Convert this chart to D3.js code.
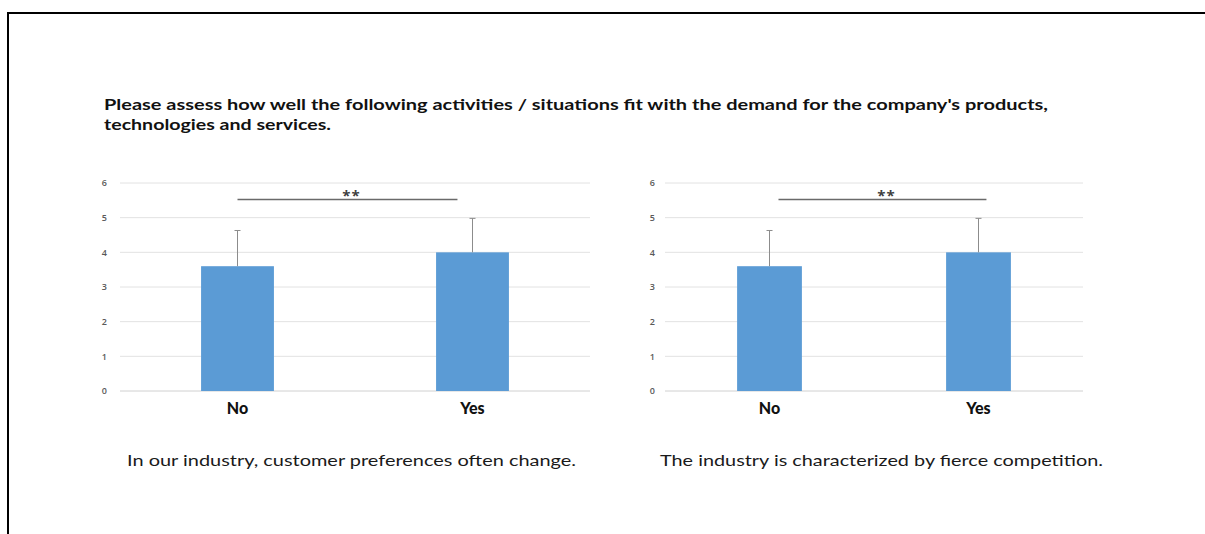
<!DOCTYPE html>
<html>
<head>
<meta charset="utf-8">
<script src="https://cdn.jsdelivr.net/npm/d3@7"></script>
<style>
  html, body { margin: 0; padding: 0; background: #fff; }
  svg { display: block; }
</style>
</head>
<body>
<svg id="chart" width="1205" height="534"></svg>
<script>
// ---- data ----
const categories = ["No", "Yes"];
const yTicks = [0, 1, 2, 3, 4, 5, 6];

const panelCaptions = [
  "In our industry, customer preferences often change.",
  "The industry is characterized by fierce competition."
];
const meansPreferences = [3.6, 4.0];
const sdPreferences = [1.03, 0.98];
const meansCompetition = [3.6, 4.0];
const sdCompetition = [1.03, 0.98];
const significanceLabel = "**";

const titleLines = [
  "Please assess how well the following activities / situations fit with the demand for the company's products,",
  "technologies and services."
];

// ---- layout ----
const W = 1205, H = 534;
const svg = d3.select("#chart");
const barColor = "#5b9bd5";

// outer frame (top and left rules)
svg.append("path")
  .attr("d", `M${W},13H8V${H}`)
  .attr("fill", "none")
  .attr("stroke", "#000")
  .attr("stroke-width", 2);

// title
const titleFont = "Lato, 'Open Sans', sans-serif";
svg.append("text")
  .attr("x", 104).attr("y", 110)
  .attr("font-family", titleFont).attr("font-weight", 700)
  .attr("font-size", 16).attr("fill", "#111")
  .attr("textLength", 944).attr("lengthAdjust", "spacingAndGlyphs")
  .text(titleLines[0]);
svg.append("text")
  .attr("x", 104).attr("y", 130)
  .attr("font-family", titleFont).attr("font-weight", 700)
  .attr("font-size", 16).attr("fill", "#111")
  .attr("textLength", 227).attr("lengthAdjust", "spacingAndGlyphs")
  .text(titleLines[1]);

const panels = [
  { left: 120, right: 590, tickX: 107, means: meansPreferences, sd: sdPreferences,
    caption: panelCaptions[0], capX: 127, capLen: 449, bracket: [0, 0.936] },
  { left: 665, right: 1083, tickX: 655, means: meansCompetition, sd: sdCompetition,
    caption: panelCaptions[1], capX: 660, capLen: 443, bracket: [0.043, 1.038] }
];

const y = d3.scaleLinear().domain([0, 6]).range([391, 183]);

panels.forEach(p => {
  const g = svg.append("g");
  const x = d3.scalePoint().domain(categories).range([p.left, p.right]).padding(0.5);
  const step = x.step();
  const barW = step * 0.31;

  // horizontal gridlines
  g.selectAll("line.grid").data(yTicks).join("line")
    .attr("class", "grid")
    .attr("x1", p.left).attr("x2", p.right)
    .attr("y1", d => y(d)).attr("y2", d => y(d))
    .attr("stroke", d => d === 0 ? "#d0d0d0" : "#e2e2e2")
    .attr("stroke-width", 1);

  // y tick labels via axis
  const axis = d3.axisLeft(y).tickValues(yTicks).tickFormat(d3.format("d"))
    .tickSize(0).tickPadding(0);
  const ax = g.append("g").attr("transform", `translate(${p.tickX},0)`).call(axis);
  ax.select(".domain").remove();
  ax.selectAll("text")
    .attr("font-family", "'Open Sans', sans-serif")
    .attr("font-size", 9).attr("font-weight", 600)
    .attr("fill", "#595959");

  const data = categories.map((c, i) => ({ c, m: p.means[i], s: p.sd[i] }));

  // bars
  g.selectAll("rect.bar").data(data).join("rect")
    .attr("class", "bar")
    .attr("x", d => x(d.c) - barW / 2)
    .attr("width", barW)
    .attr("y", d => y(d.m))
    .attr("height", d => y(0) - y(d.m))
    .attr("fill", barColor);

  // error bars (upper whisker only)
  g.selectAll("line.err").data(data).join("line")
    .attr("class", "err")
    .attr("x1", d => x(d.c)).attr("x2", d => x(d.c))
    .attr("y1", d => y(d.m)).attr("y2", d => y(d.m + d.s))
    .attr("stroke", "#8c8c8c").attr("stroke-width", 1);
  g.selectAll("line.cap").data(data).join("line")
    .attr("class", "cap")
    .attr("x1", d => x(d.c) - 3).attr("x2", d => x(d.c) + 3)
    .attr("y1", d => y(d.m + d.s)).attr("y2", d => y(d.m + d.s))
    .attr("stroke", "#8c8c8c").attr("stroke-width", 1);

  // category labels
  g.selectAll("text.cat").data(categories).join("text")
    .attr("class", "cat")
    .attr("x", d => x(d)).attr("y", 414)
    .attr("text-anchor", "middle")
    .attr("font-family", "Lato, 'Open Sans', sans-serif")
    .attr("font-weight", 900).attr("font-size", 16)
    .attr("fill", "#111")
    .text(d => d);

  // significance bracket
  const x0 = x(categories[0]);
  const bx1 = x0 + p.bracket[0] * step, bx2 = x0 + p.bracket[1] * step;
  g.append("line")
    .attr("x1", bx1).attr("x2", bx2)
    .attr("y1", 199.5).attr("y2", 199.5)
    .attr("stroke", "#6a6a6a").attr("stroke-width", 1.3);
  g.append("text")
    .attr("x", (bx1 + bx2) / 2 + 4).attr("y", 201)
    .attr("text-anchor", "middle")
    .attr("font-family", "'Open Sans', sans-serif")
    .attr("font-size", 15).attr("font-weight", 700).attr("fill", "#404040")
    .attr("letter-spacing", 1)
    .text(significanceLabel);

  // caption under panel
  g.append("text")
    .attr("x", p.capX).attr("y", 466)
    .attr("font-family", "Lato, 'Open Sans', sans-serif")
    .attr("font-size", 16).attr("fill", "#1a1a1a")
    .attr("textLength", p.capLen).attr("lengthAdjust", "spacingAndGlyphs")
    .text(p.caption);
});
</script>
</body>
</html>
